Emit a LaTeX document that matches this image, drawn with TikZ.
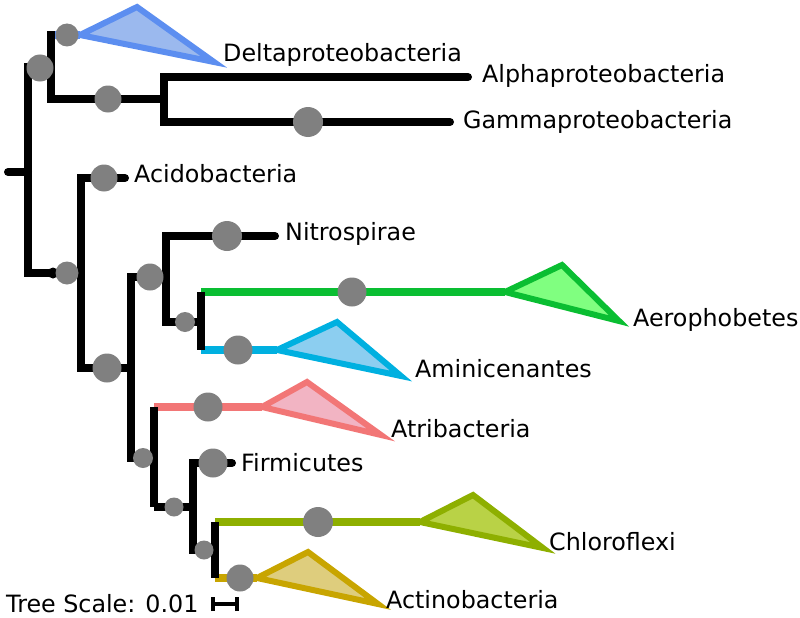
\documentclass[tikz,border=0pt]{standalone}
\usepackage{fontspec}
\setmainfont{DejaVu Sans}
\definecolor{dgray}{RGB}{128,128,128}
\definecolor{deltaE}{RGB}{92,142,240}
\definecolor{deltaF}{RGB}{155,185,238}
\definecolor{aeroE}{RGB}{10,190,50}
\definecolor{aeroF}{RGB}{128,255,128}
\definecolor{amiE}{RGB}{0,176,224}
\definecolor{amiF}{RGB}{140,206,240}
\definecolor{atriE}{RGB}{242,118,118}
\definecolor{atriF}{RGB}{242,180,195}
\definecolor{chloE}{RGB}{142,175,0}
\definecolor{chloF}{RGB}{185,210,70}
\definecolor{actE}{RGB}{200,165,0}
\definecolor{actF}{RGB}{222,205,125}
\begin{document}
\begin{tikzpicture}[x=1pt,y=-1pt,
  vbr/.style={line width=8pt,black,line cap=rect},
  hbr/.style={line width=8pt,black,line cap=round},
  cbr/.style={line width=7.5pt,line cap=butt},
  tri/.style={line width=6pt,line join=miter},
  sup/.style={circle,fill=dgray,inner sep=0pt,minimum size=#1},
  lab/.style={anchor=base west,inner sep=0pt,font=\fontsize{23.8}{28}\selectfont}
]
\useasboundingbox (0,0) rectangle (800,618);

% ---------- coordinates ----------
\coordinate (stub) at (8,172);
\coordinate (rootT) at (28,67);
\coordinate (rootB) at (28,273);
\coordinate (nA) at (51,67);
\coordinate (nAt) at (51,35);
\coordinate (nAb) at (51,99);
\coordinate (nB) at (164,99);
\coordinate (nBt) at (164,77);
\coordinate (nBb) at (164,122);
\coordinate (alphaE) at (468,77);
\coordinate (gammaE) at (450,122);
\coordinate (deltaS) at (80,35);
\coordinate (nL) at (81,273);
\coordinate (nLt) at (81,178);
\coordinate (nLb) at (81,368);
\coordinate (acidoE) at (125,178);
\coordinate (nC) at (131,368);
\coordinate (nCt) at (131,277);
\coordinate (nCb) at (131,458);
\coordinate (nD) at (166,277);
\coordinate (nDt) at (166,236);
\coordinate (nDb) at (166,322);
\coordinate (nitroE) at (275,236);
\coordinate (nE) at (201,322);
\coordinate (nEt) at (201,292);
\coordinate (nEb) at (201,350);
\coordinate (aeroS) at (505,292);
\coordinate (amiS) at (277,350);
\coordinate (nF) at (154,458);
\coordinate (nFt) at (154,407);
\coordinate (nFb) at (154,507);
\coordinate (atriS) at (262,407);
\coordinate (nG) at (193,507);
\coordinate (nGt) at (193,463);
\coordinate (nGb) at (193,550);
\coordinate (firmE) at (232,463);
\coordinate (nH) at (215,550);
\coordinate (nHt) at (215,522);
\coordinate (nHb) at (215,578);
\coordinate (chloS) at (420,522);
\coordinate (actS) at (257,578);

% ---------- coloured clades ----------
\draw[cbr,deltaE] (nAt) -- (deltaS);
\draw[tri,draw=deltaE,fill=deltaF] (deltaS) -- (137,7) -- (214,62) -- cycle;

\draw[cbr,aeroE] (nEt) -- (aeroS);
\draw[tri,draw=aeroE,fill=aeroF] (aeroS) -- (562,265) -- (619,321) -- cycle;

\draw[cbr,amiE] (nEb) -- (amiS);
\draw[tri,draw=amiE,fill=amiF] (amiS) -- (337,322) -- (401,376) -- cycle;

\draw[cbr,atriE] (nFt) -- (atriS);
\draw[tri,draw=atriE,fill=atriF] (atriS) -- (307,382) -- (381,435) -- cycle;

\draw[cbr,chloE] (nHt) -- (chloS);
\draw[tri,draw=chloE,fill=chloF] (chloS) -- (473,495) -- (543,548) -- cycle;

\draw[cbr,actE] (nHb) -- (actS);
\draw[tri,draw=actE,fill=actF] (actS) -- (308,552) -- (378,604) -- cycle;

% ---------- black branches ----------
\draw[hbr] (stub) -- (28,172);
\draw[vbr] (rootT) -- (rootB);
\draw[hbr,line cap=butt] (rootT) -- (nA);
\draw[vbr] (nAt) -- (nAb);
\draw[hbr,line cap=butt] (nAb) -- (nB);
\draw[vbr] (nBt) -- (nBb);
\draw[hbr] (nBt) -- (alphaE);
\draw[hbr] (nBb) -- (gammaE);

\draw[hbr,line cap=butt] (rootB) -- (nL);
\fill[black] (53,273) circle (5.5);
\draw[vbr] (nLt) -- (nLb);
\draw[hbr] (nLt) -- (acidoE);
\draw[hbr,line cap=butt] (nLb) -- (nC);
\draw[vbr] (nCt) -- (nCb);
\draw[hbr,line cap=butt] (nCt) -- (nD);
\draw[vbr] (nDt) -- (nDb);
\draw[hbr] (nDt) -- (nitroE);
\draw[hbr,line cap=butt] (nDb) -- (nE);
\draw[vbr,line cap=butt] (nEt) -- (nEb);
\draw[hbr,line cap=butt] (nCb) -- (nF);
\draw[vbr,line cap=butt] (nFt) -- (nFb);
\draw[hbr,line cap=butt] (nFb) -- (nG);
\draw[vbr] (nGt) -- (nGb);
\draw[hbr] (nGt) -- (firmE);
\draw[hbr,line cap=butt] (nGb) -- (nH);
\draw[vbr,line cap=butt] (nHt) -- (nHb);

% ---------- support circles ----------
\node[sup=27pt] (s1) at (40,68) {};
\node[sup=23pt] (s2) at (67,35) {};
\node[sup=27pt] (s3) at (108,99) {};
\node[sup=30pt] (s4) at (308,122) {};
\node[sup=23pt] (s5) at (67,273) {};
\node[sup=27pt] (s6) at (104,178) {};
\node[sup=29pt] (s7) at (107,368) {};
\node[sup=27pt] (s8) at (150,277) {};
\node[sup=30pt] (s9) at (227,236) {};
\node[sup=20pt] (s10) at (185,322) {};
\node[sup=29pt] (s11) at (352,292) {};
\node[sup=29pt] (s12) at (238,350) {};
\node[sup=20pt] (s13) at (143,458) {};
\node[sup=29pt] (s14) at (208,407) {};
\node[sup=19pt] (s15) at (174,507) {};
\node[sup=29pt] (s16) at (213,463) {};
\node[sup=19pt] (s17) at (204,550) {};
\node[sup=30pt] (s18) at (318,522) {};
\node[sup=27pt] (s19) at (240,578) {};

% ---------- labels ----------
\node[lab] (tdelta) at (223,62) {Deltaproteobacteria};
\node[lab] (talpha) at (482,82) {Alphaproteobacteria};
\node[lab] (tgamma) at (463,128) {Gammaproteobacteria};
\node[lab] (tacido) at (134,182) {Acidobacteria};
\node[lab] (tnitro) at (285,240) {Nitrospirae};
\node[lab] (taero) at (633,326) {Aerophobetes};
\node[lab] (tami) at (415,377) {Aminicenantes};
\node[lab] (tatri) at (391,437) {Atribacteria};
\node[lab] (tfirm) at (241,471) {Firmicutes};
\node[lab] (tchlo) at (549,550) {Chloroflexi};
\node[lab] (tact) at (386,608) {Actinobacteria};
\node[lab] (tscale) at (6,612) {Tree Scale: 0.01};

% ---------- scale bar ----------
\coordinate (sbL) at (213,604);
\coordinate (sbR) at (237,604);
\draw[line width=3.5pt] (sbL) -- (sbR);
\draw[line width=3.5pt] ([yshift=-7]sbL) -- ([yshift=7]sbL);
\draw[line width=3.5pt] ([yshift=-7]sbR) -- ([yshift=7]sbR);
\end{tikzpicture}
\end{document}
